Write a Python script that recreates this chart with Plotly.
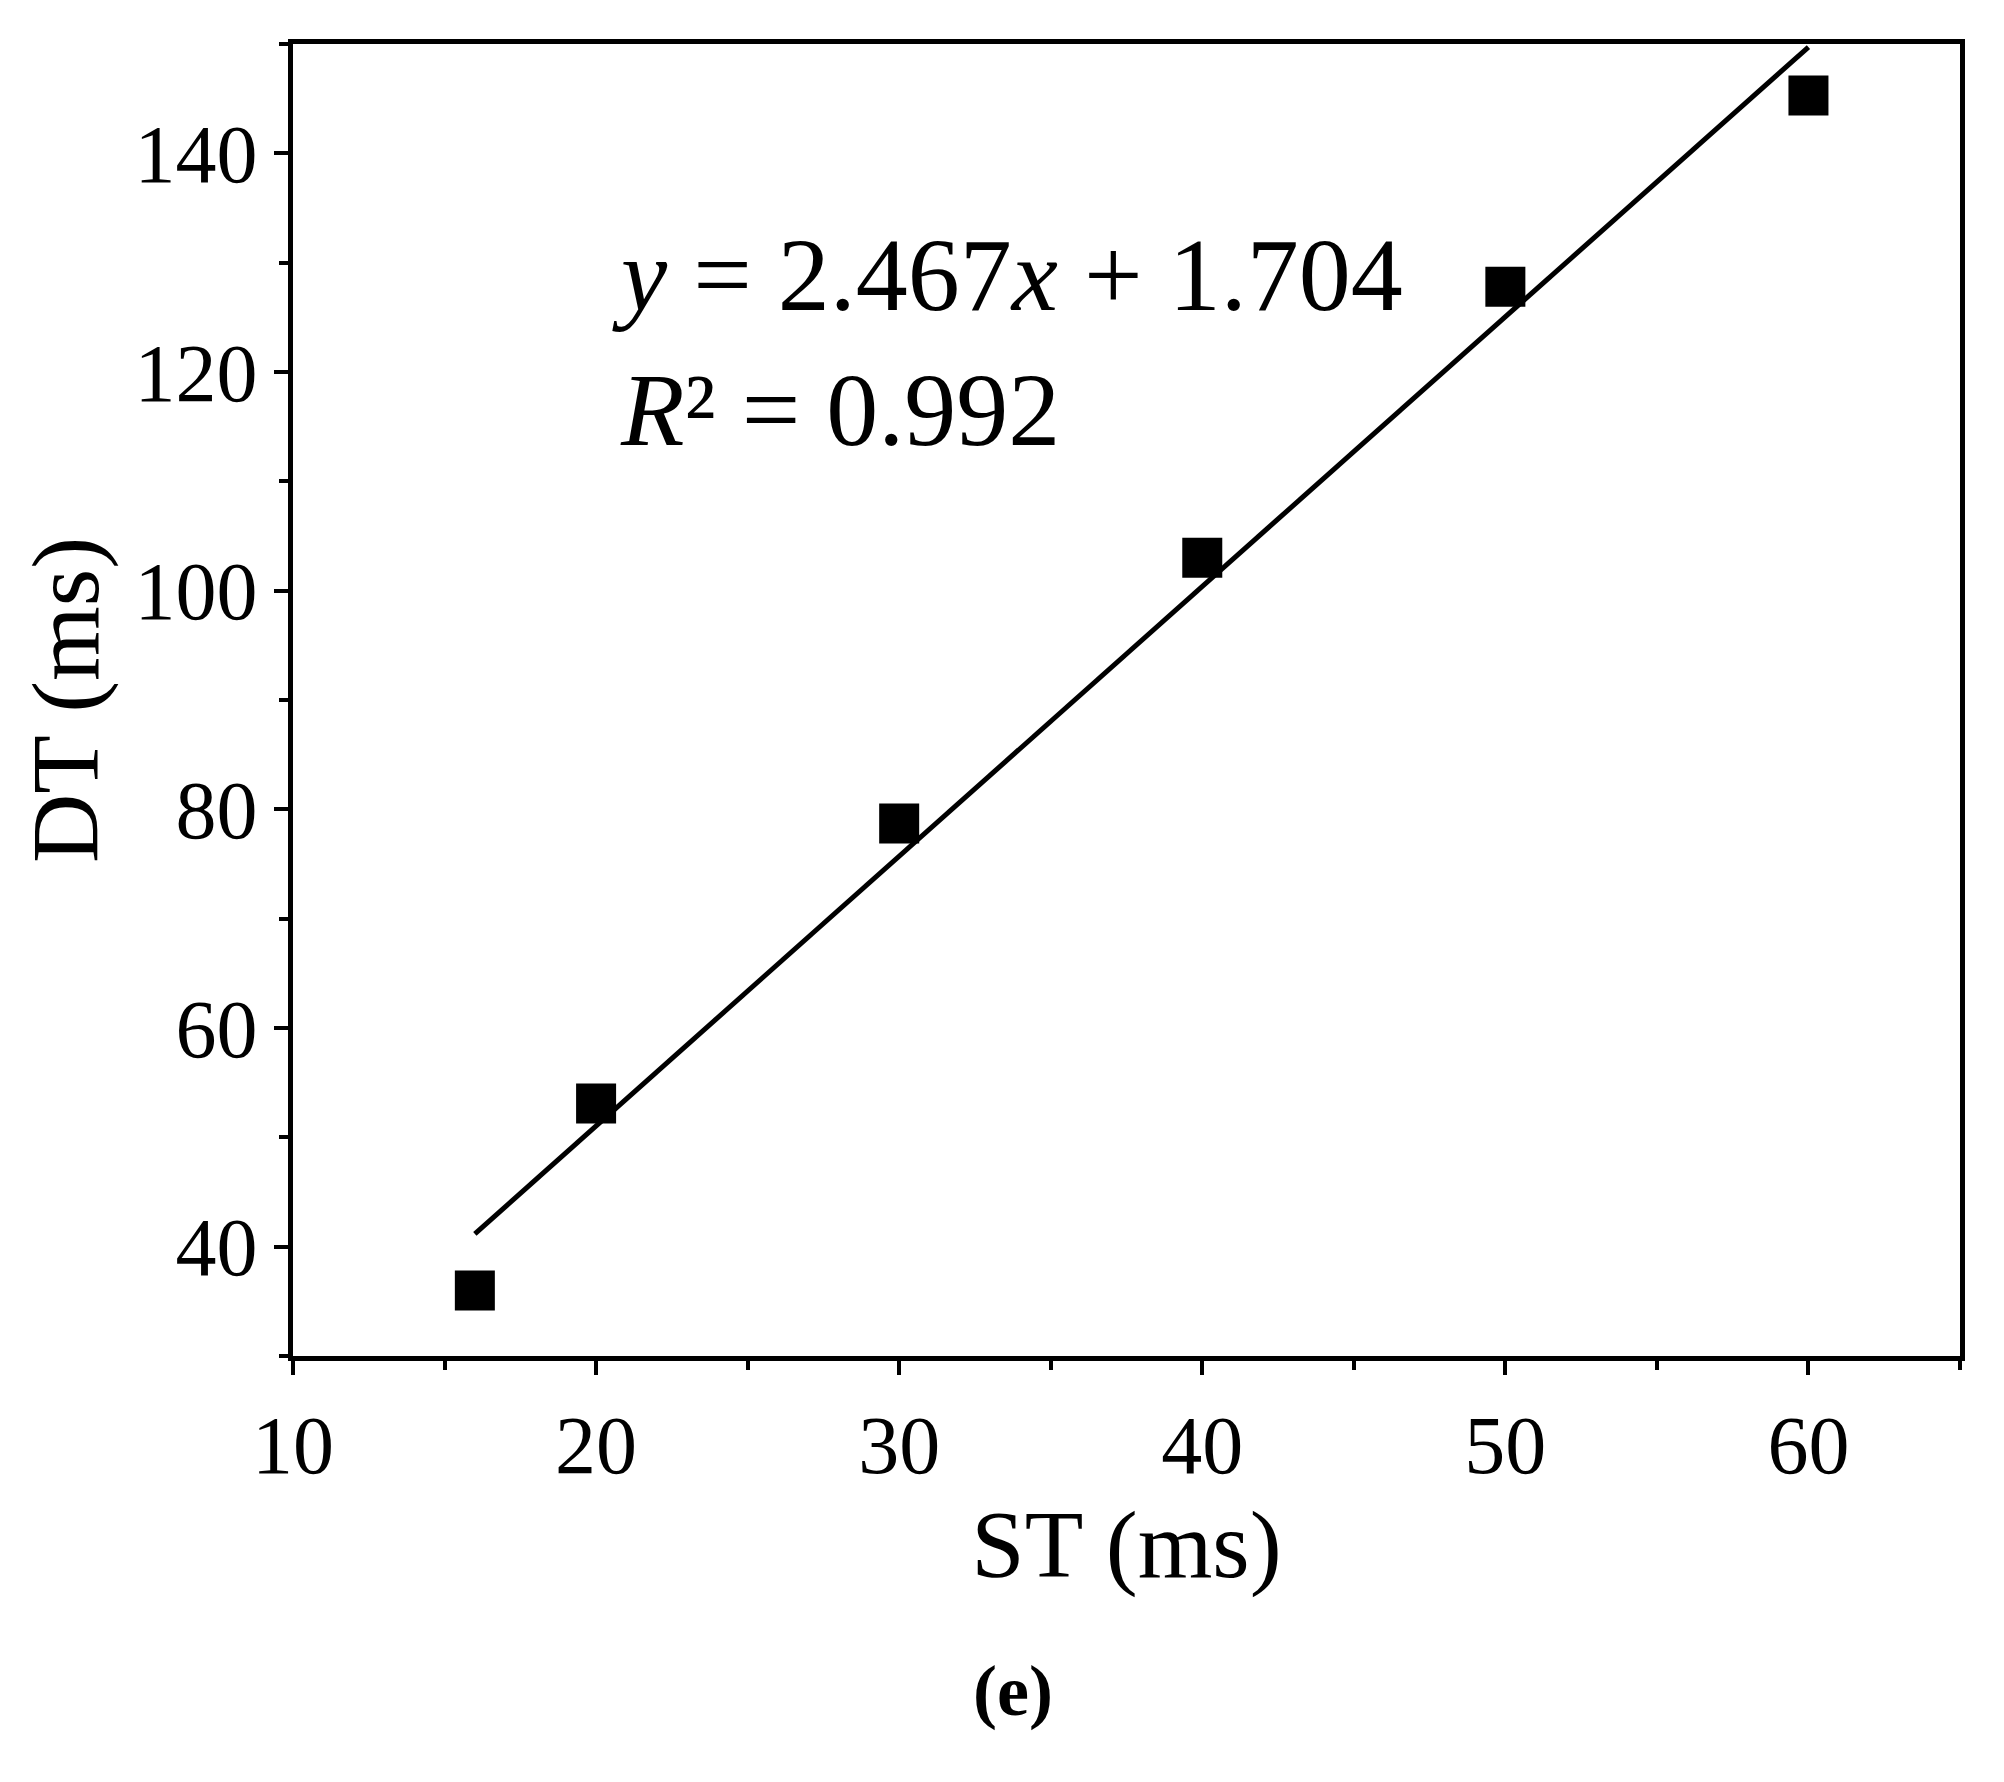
import plotly.graph_objects as go

st = [16, 20, 30, 40, 50, 60]
dt = [36, 53.1, 78.7, 103, 127.8, 145.3]
slope, intercept = 2.467, 1.704
fit_x = [16, 60]
fit_y = [slope * v + intercept for v in fit_x]

F = "Liberation Serif"
fig = go.Figure()
fig.add_trace(go.Scatter(x=fit_x, y=fit_y, mode="lines", line=dict(color="black", width=5), showlegend=False))
fig.add_trace(go.Scatter(x=st, y=dt, mode="markers", marker=dict(symbol="square", size=40, color="black"), showlegend=False))

axis_common = dict(showline=True, linecolor="black", linewidth=5, mirror=True, showgrid=False, zeroline=False,
                   ticks="outside", ticklen=14, tickwidth=4, tickcolor="black",
                   tickfont=dict(family=F, size=82, color="black"))
fig.update_xaxes(**axis_common, range=[10, 65], dtick=10, tick0=10,
                 title=dict(text="ST (ms)", font=dict(family=F, size=96, color="black"), standoff=5),
                 minor=dict(ticks="outside", ticklen=9, tickwidth=4, tickcolor="black", dtick=5, tick0=15))
fig.update_yaxes(**axis_common, range=[30, 150], dtick=20, tick0=40,
                 title=dict(text="DT (ms)", font=dict(family=F, size=96, color="black"), standoff=5),
                 minor=dict(ticks="outside", ticklen=9, tickwidth=4, tickcolor="black", dtick=10, tick0=30))

fig.add_annotation(x=0.19, y=0.87, xref="paper", yref="paper", xanchor="left", yanchor="top", align="left",
                   showarrow=False, font=dict(family=F, size=104, color="black"),
                   text="<i>y</i> = 2.467<i>x</i> + 1.704<br><i>R</i>² = 0.992")
fig.add_annotation(x=(1005 - 285) / (2004 - 285 - 52), y=-0.255, xref="paper", yref="paper",
                   xanchor="center", yanchor="middle", showarrow=False, text="<b>(e)</b>",
                   font=dict(family=F, size=72, color="black"))
fig.update_layout(width=2004, height=1782, plot_bgcolor="white", paper_bgcolor="white",
                  margin=dict(l=285, r=52, t=36, b=434))
fig.write_html("out.html")
